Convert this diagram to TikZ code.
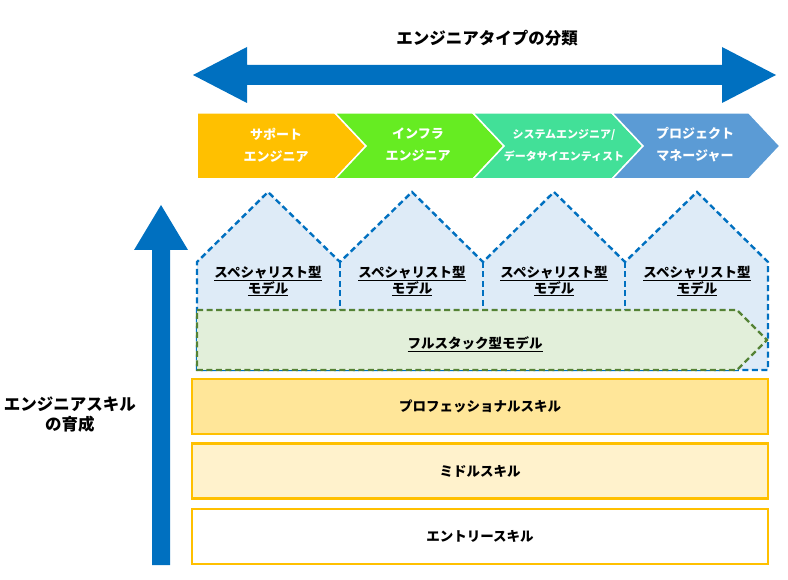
\documentclass[tikz,border=0pt]{standalone}
\usepackage{fontspec}
\setmainfont{Noto Sans CJK JP}
\usepackage{tikz}
\usetikzlibrary{positioning}
\definecolor{typeblue}{RGB}{0,112,192}
\definecolor{supportorange}{RGB}{255,192,0}
\definecolor{infragreen}{RGB}{102,236,34}
\definecolor{sysgreen}{RGB}{66,224,152}
\definecolor{pmblue}{RGB}{91,155,213}
\definecolor{housefill}{RGB}{222,235,247}
\definecolor{stackgreen}{RGB}{84,130,53}
\definecolor{stackfill}{RGB}{226,239,218}
\definecolor{skillline}{RGB}{255,192,0}
\definecolor{profill}{RGB}{255,230,153}
\definecolor{midfill}{RGB}{255,242,204}

\begin{document}
\begin{tikzpicture}[
    x=1pt, y=-1pt,
    chev/.style={draw=white, line width=1.5pt},
    chevtext/.style={text=white, font=\fontsize{13}{22}\selectfont\bfseries, align=center},
    house/.style={draw=typeblue, fill=housefill, line width=2.4pt, dash pattern=on 6pt off 3.5pt},
    modeltext/.style={font=\fontsize{13.5}{16}\selectfont\bfseries, align=center},
    skill/.style={rectangle, draw=skillline, line width=2.8pt, minimum width=576pt, minimum height=55pt, font=\fontsize{13.5}{16}\selectfont\bfseries},
    bigtext/.style={font=\fontsize{16.5}{20}\selectfont\bfseries, align=center}
]
    \useasboundingbox (0,0) rectangle (788,580);

    % Engineer types
    \node[bigtext] (typetitle) at (487, 38) {エンジニアタイプの分類};
    \fill[typeblue] (193,75) -- (247,47) -- (247,65) -- (722,65) -- (722,47) -- (776,75)
        -- (722,103) -- (722,85) -- (247,85) -- (247,103) -- cycle;

    \fill[supportorange, chev] (197,113) -- (335,113) -- (366,146) -- (335,179) -- (197,179) -- cycle;
    \fill[infragreen, chev] (335,113) -- (473,113) -- (504,146) -- (473,179) -- (335,179) -- (366,146) -- cycle;
    \fill[sysgreen, chev] (473,113) -- (612,113) -- (643,146) -- (612,179) -- (473,179) -- (504,146) -- cycle;
    \fill[pmblue, chev] (612,113) -- (749,113) -- (780,146) -- (749,179) -- (612,179) -- (643,146) -- cycle;

    \node[chevtext] (support) at (276, 145) {サポート\\エンジニア};
    \node[chevtext] (infra) at (418, 145) {インフラ\\エンジニア};
    \node[chevtext, font=\fontsize{11}{22}\selectfont\bfseries] (system) at (564, 145) {システムエンジニア/\\データサイエンティスト};
    \node[chevtext] (pm) at (695, 145) {プロジェクト\\マネージャー};

    % Specialist models
    \filldraw[house] (197,370) -- (197,262) -- (268,192) -- (340,262) -- (412,192) -- (483,262)
        -- (554,192) -- (625,262) -- (697,192) -- (768,262) -- (768,370) -- cycle;
    \draw[house] (340,262) -- (340,310);
    \draw[house] (483,262) -- (483,310);
    \draw[house] (625,262) -- (625,310);

    \node[modeltext] (spec1) at (268, 281) {\underline{スペシャリスト型}\\\underline{モデル}};
    \node[modeltext] (spec2) at (412, 281) {\underline{スペシャリスト型}\\\underline{モデル}};
    \node[modeltext] (spec3) at (554, 281) {\underline{スペシャリスト型}\\\underline{モデル}};
    \node[modeltext] (spec4) at (697, 281) {\underline{スペシャリスト型}\\\underline{モデル}};

    % Full stack model
    \filldraw[house, draw=stackgreen, fill=stackfill] (197,310) -- (737,310) -- (767,340) -- (737,370) -- (197,370) -- cycle;
    \node[modeltext] (fullstack) at (475, 344) {\underline{フルスタック型モデル}};

    % Skill levels
    \node[skill, fill=profill] (pro) at (480, 406.5) {プロフェッショナルスキル};
    \node[skill, fill=midfill] (middle) at (480, 471) {ミドルスキル};
    \node[skill, fill=white] (entry) at (480, 536.5) {エントリースキル};

    % Skill growth
    \fill[typeblue] (152,565) -- (152,250) -- (134,250) -- (161,205) -- (188,250) -- (170,250) -- (170,565) -- cycle;
    \node[bigtext] (growth) at (70, 415) {エンジニアスキル\\の育成};
\end{tikzpicture}
\end{document}
